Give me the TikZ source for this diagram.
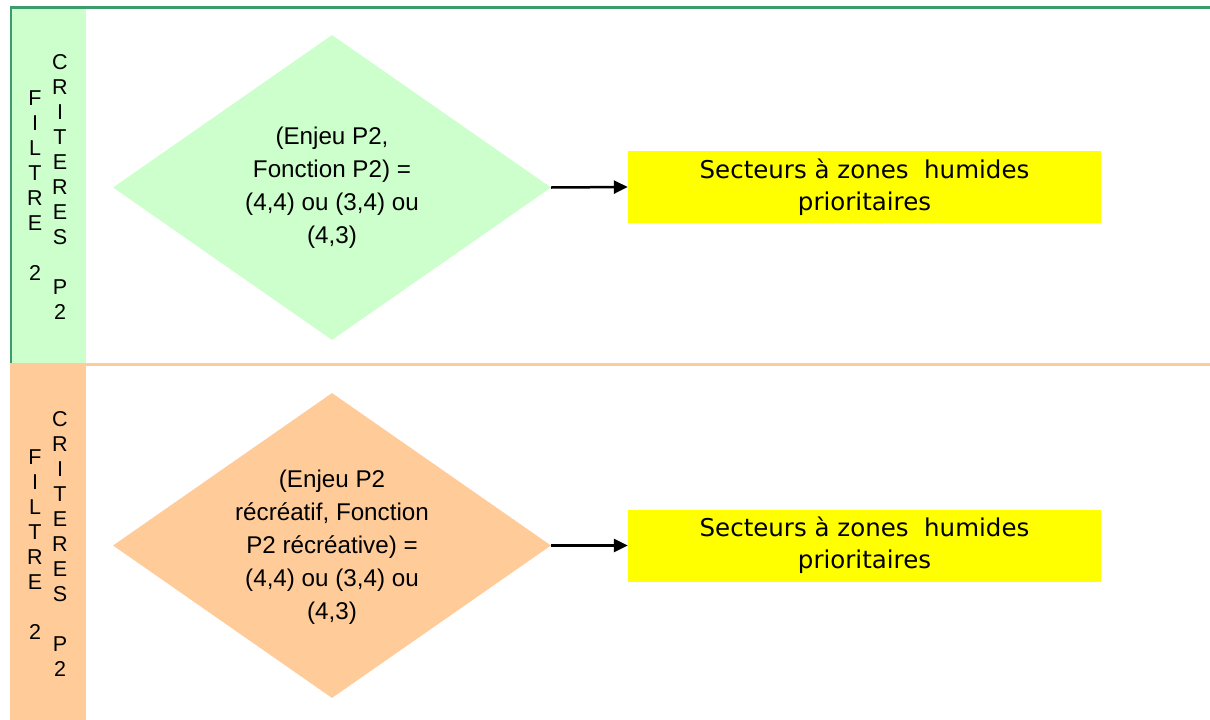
\documentclass[tikz,border=0pt]{standalone}
\usepackage{fontspec}
\setmainfont{Liberation Sans}
\newfontfamily\verd{DejaVu Sans}
\usetikzlibrary{shapes.geometric,arrows.meta}
\definecolor{lanegreen}{HTML}{CCFFCC}
\definecolor{linegreen}{HTML}{3C9C6C}
\definecolor{laneorange}{HTML}{FFCC99}
\definecolor{boxyellow}{HTML}{FFFF00}
\tikzset{
  vlabel/.style={align=center, inner sep=0pt, font=\fontsize{21.5}{25}\selectfont},
  decision/.style={diamond, draw=none, minimum width=438pt, minimum height=305pt, inner sep=0pt},
  dtext/.style={align=center, inner sep=0pt, font=\fontsize{24.2}{33}\selectfont},
  result/.style={fill=boxyellow, minimum width=473pt, minimum height=72pt, inner sep=0pt,
    align=center, font=\verd\fontsize{24.5}{32}\selectfont},
  flow/.style={line width=2.5pt, -{Triangle[length=14pt,width=13pt]}}
}
\begin{document}
\begin{tikzpicture}[x=1pt,y=-1pt]
\useasboundingbox (0,0) rectangle (1210,720);
\fill[white] (0,0) rectangle (1210,720);
% lanes
\fill[lanegreen] (12,8) rectangle (86,363);
\fill[laneorange] (10,365) rectangle (86,720);
\draw[linegreen, line width=2.5pt] (11,363) -- (11,7.5) -- (1210,7.5);
\draw[laneorange, line width=2.5pt] (10,364.5) -- (1210,364.5);
% lane labels
\node[vlabel] (f1) at (35,186) {F\\I\\L\\T\\R\\E\\[25pt]2};
\node[vlabel] (c1) at (60,187) {C\\R\\I\\T\\E\\R\\E\\S\\[25pt]P\\2};
\node[vlabel] (f2) at (35,545) {F\\I\\L\\T\\R\\E\\[25pt]2};
\node[vlabel] (c2) at (60,544) {C\\R\\I\\T\\E\\R\\E\\S\\[25pt]P\\2};
% decisions
\node[decision, fill=lanegreen] (d1) at (332,187.5) {};
\node[dtext] (t1) at (d1.center) {(Enjeu P2,\\Fonction P2) =\\(4,4) ou (3,4) ou\\(4,3)};
\node[decision, fill=laneorange] (d2) at (332,545.5) {};
\node[dtext] (t2) at (332,547) {(Enjeu P2\\récréatif, Fonction\\P2 récréative) =\\(4,4) ou (3,4) ou\\(4,3)};
% results
\node[result] (r1) at (864.5,187) {Secteurs à zones\ \ humides\\prioritaires};
\node[result] (r2) at (864.5,545.5) {Secteurs à zones\ \ humides\\prioritaires};
% connectors
\draw[flow] (d1.east) -- (r1.west);
\draw[flow] (d2.east) -- (r2.west);
\end{tikzpicture}
\end{document}
